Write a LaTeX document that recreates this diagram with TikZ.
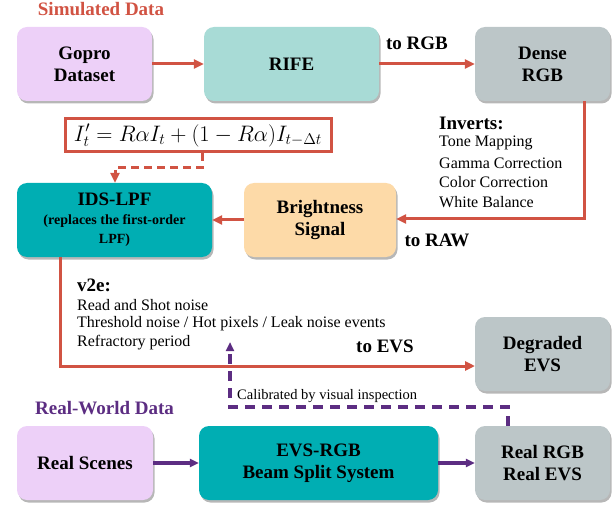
\documentclass[tikz,border=0pt]{standalone}
\usepackage{graphicx}
\usepackage{fontspec}
\setmainfont{Liberation Serif}
\usetikzlibrary{arrows.meta,shadows}
\definecolor{cred}{HTML}{D15343}
\definecolor{cpurple}{HTML}{5C2D82}
\definecolor{clav}{HTML}{EDD0F8}
\definecolor{crife}{HTML}{A8DBD6}
\definecolor{cgrey}{HTML}{BCC6C8}
\definecolor{cteal}{HTML}{00AEB3}
\definecolor{cpeach}{HTML}{FDDAA8}
\tikzset{
  box/.style={rounded corners=10pt, inner sep=2pt, align=center,
    font=\bfseries\fontsize{19}{22}\selectfont,
    drop shadow={shadow xshift=1.5pt, shadow yshift=-2.5pt, opacity=0.4, fill=black!70}},
  lbl/.style={font=\bfseries\fontsize{19}{22}\selectfont, inner sep=0pt},
  txt/.style={font=\fontsize{16}{19}\selectfont, inner sep=0pt, anchor=west},
  redarrow/.style={draw=cred, line width=3pt, -{Triangle[length=10pt,width=9pt]}},
  purarrow/.style={draw=cpurple, line width=3.2pt, -{Triangle[length=9pt,width=8pt]}},
}
\begin{document}
\begin{tikzpicture}[x=1pt,y=-1pt]
\useasboundingbox (0,0) rectangle (613,505);
% section titles
\node[lbl, text=cred] (simtitle) at (101,9) {Simulated Data};
\node[lbl, text=cpurple] (realtitle) at (104.5,408) {Real-World Data};
% boxes
\node[box, fill=clav, minimum width=135pt, minimum height=74pt] (gopro) at (84.5,64) {Gopro\\Dataset};
\node[box, fill=crife, minimum width=175pt, minimum height=74pt] (rife) at (291.5,64) {RIFE};
\node[box, fill=cgrey, minimum width=135pt, minimum height=74pt] (dense) at (542.5,64) {Dense\\RGB};
\node[draw=cred, line width=3pt, fill=white, minimum width=266pt, minimum height=33pt, inner sep=0pt] (eq) at (198,135.5) {\scalebox{1.08}{\fontsize{20.74}{24}\selectfont $I'_t = R\alpha I_t + (1 - R\alpha) I_{t-\Delta t}$}};
\node[box, fill=cteal, minimum width=195pt, minimum height=74pt] (ids) at (114.5,220) {IDS-LPF\\[-3pt]{\fontsize{14}{18}\selectfont (replaces the first-order}\\[-3pt]{\fontsize{14}{18}\selectfont LPF)}};
\node[box, fill=cpeach, minimum width=152pt, minimum height=74pt] (bright) at (320,220) {Brightness\\Signal};
\node[box, fill=cgrey, minimum width=135pt, minimum height=74pt] (degraded) at (542.5,354) {Degraded\\EVS};
\node[box, fill=clav, minimum width=136pt, minimum height=74pt] (scenes) at (85,463) {Real Scenes};
\node[box, fill=cteal, minimum width=239pt, minimum height=74pt] (evs) at (318.5,463) {EVS-RGB\\Beam Split System};
\node[box, fill=cgrey, minimum width=135pt, minimum height=74pt] (realrgb) at (542.5,463) {Real RGB\\Real EVS};
% labels
\node[lbl] (torgb) at (417,43) {to RGB};
\node[lbl] (toraw) at (437,240) {to RAW};
\node[lbl] (toevs) at (385,346) {to EVS};
\node[txt, font=\bfseries\fontsize{19}{22}\selectfont] (inv0) at (439,123) {Inverts:};
\node[txt] (inv1) at (439,143) {Tone Mapping};
\node[txt] (inv2) at (439,163) {Gamma Correction};
\node[txt] (inv3) at (439,182) {Color Correction};
\node[txt] (inv4) at (439,202) {White Balance};
\node[txt, font=\bfseries\fontsize{19}{22}\selectfont] (v0) at (77,285) {v2e:};
\node[txt] (v1) at (77,305) {Read and Shot noise};
\node[txt] (v2) at (77,324) {Threshold noise / Hot pixels / Leak noise events};
\node[txt] (v3) at (77,343) {Refractory period};
\node[txt, font=\fontsize{14.5}{17}\selectfont] (calib) at (237,396) {Calibrated by visual inspection};
% coordinates
\coordinate (c1) at (584,219);
\coordinate (e1) at (202,168);
\coordinate (e2) at (115,168);
\coordinate (v2eb) at (60,366);
\coordinate (degin) at (475,366);
\coordinate (pa) at (508,407);
\coordinate (pb) at (230,407);
\coordinate (ptip) at (230,342);
% connectors
\draw[redarrow] (gopro) -- (rife);
\draw[redarrow] (rife) -- (dense);
\draw[redarrow] (dense.south -| c1) -- (c1) -- (bright.east |- c1);
\draw[redarrow] (bright) -- (ids);
\draw[redarrow, dash pattern=on 8pt off 5pt] (eq.south -| e1) -- (e1) -- (e2) -- (ids.north -| e2);
\draw[redarrow] (ids.south -| v2eb) -- (v2eb) -- (degin);
\draw[purarrow] (scenes) -- (evs);
\draw[purarrow] (evs) -- (realrgb);
\draw[purarrow, dash pattern=on 10pt off 7pt] (realrgb.north -| pa) -- (pa) -- (pb) -- (ptip);
\end{tikzpicture}
\end{document}
